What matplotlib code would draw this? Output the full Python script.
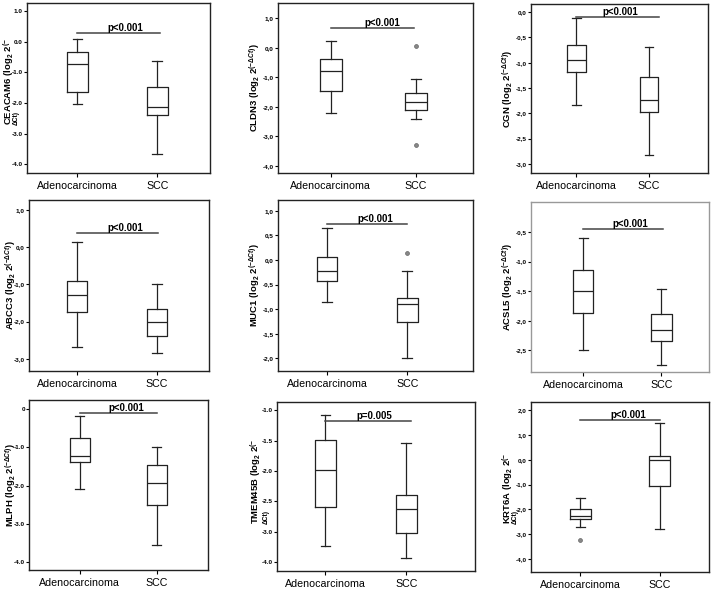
import matplotlib
matplotlib.use('Agg')
from matplotlib import pyplot as plt

plt.rcParams['font.family'] = ['Liberation Sans', 'DejaVu Sans']
plt.rcParams['mathtext.fontset'] = 'custom'
plt.rcParams['mathtext.rm'] = 'Liberation Sans:bold'
plt.rcParams['mathtext.it'] = 'Liberation Sans:bold:italic'
plt.rcParams['mathtext.bf'] = 'Liberation Sans:bold'

groups = ['Adenocarcinoma', 'SCC']
genes = ['CEACAM6', 'CLDN3', 'CGN', 'ABCC3', 'MUC1', 'ACSL5', 'MLPH', 'TMEM45B', 'KRT6A']

# whisker low, Q1, median, Q3, whisker high
adeno = [
    [-2.03, -1.64, -0.71, -0.34, 0.10],
    [-2.22, -1.48, -0.79, -0.40, 0.23],
    [-1.84, -1.18, -0.94, -0.66, -0.12],
    [-2.68, -1.74, -1.28, -0.90, 0.14],
    [-0.85, -0.43, -0.23, 0.07, 0.66],
    [-2.49, -1.87, -1.50, -1.15, -0.60],
    [-2.08, -1.39, -1.22, -0.76, -0.17],
    [-3.23, -2.59, -1.99, -1.49, -1.07],
    [-2.70, -2.39, -2.28, -1.98, -1.54],
]
scc = [
    [-3.66, -2.38, -2.12, -1.48, -0.64],
    [-2.40, -2.11, -1.85, -1.52, -1.07],
    [-2.82, -1.97, -1.74, -1.29, -0.68],
    [-2.85, -2.39, -2.00, -1.67, -0.99],
    [-1.99, -1.26, -0.90, -0.77, -0.23],
    [-2.75, -2.34, -2.15, -1.88, -1.47],
    [-3.55, -2.50, -1.94, -1.45, -1.00],
    [-3.43, -3.03, -2.63, -2.39, -1.53],
    [-2.81, -1.06, 0.00, 0.15, 1.49],
]
adeno_out = [[], [], [], [], [], [], [], [], [-3.26]]
scc_out = [[], [0.06, -3.30], [], [], [0.14], [], [], [], []]

p_text = ['p<0.001'] * 7 + ['p=0.005', 'p<0.001']
p_y = [0.29, 0.66, -0.09, 0.37, 0.74, -0.45, -0.10, -1.18, 1.62]

yticks = [
    [1, 0, -1, -2, -3, -4],
    [1, 0, -1, -2, -3, -4],
    [0, -0.5, -1, -1.5, -2, -2.5, -3],
    [1, 0, -1, -2, -3],
    [1, 0.5, 0, -0.5, -1, -1.5, -2],
    [-0.5, -1, -1.5, -2, -2.5],
    [0, -1, -2, -3, -4],
    [-1, -1.5, -2, -2.5, -3, -3.5],
    [2, 1, 0, -1, -2, -3, -4],
]
ytick_labels = [
    ['1.0', '0.0', '-1.0', '-2.0', '-3.0', '-4.0'],
    ['1,0', '0,0', '-1,0', '-2,0', '-3,0', '-4,0'],
    ['0,0', '-0,5', '-1,0', '-1,5', '-2,0', '-2,5', '-3,0'],
    ['1,0', '0,0', '-1,0', '-2,0', '-3,0'],
    ['1,0', '0,5', '0,0', '-0,5', '-1,0', '-1,5', '-2,0'],
    ['-0,5', '-1,0', '-1,5', '-2,0', '-2,5'],
    ['0', '-1.0', '-2.0', '-3.0', '-4.0'],
    ['-1.0', '-1.5', '-2.0', '-2.5', '-3.0', '-4.0'],
    ['2,0', '1,0', '0,0', '-1,0', '-2,0', '-3,0', '-4,0'],
]

# layout (pixels in a 713x591 image): left, top, right, bottom
boxes_px = [
    (27, 3, 210, 173), (278, 3, 473, 173), (531, 4, 708, 173),
    (29, 200, 209, 371), (278, 200, 473, 371), (531, 202, 709, 372),
    (29, 400, 208, 570), (277, 402, 475, 571), (531, 402, 709, 572),
]
ylims = [(-4.29, 1.27), (-4.24, 1.51), (-3.18, 0.16), (-3.33, 1.27), (-2.26, 1.22),
         (-2.87, 0.01), (-4.2, 0.24), (-3.65, -0.86), (-4.54, 2.34)]
xlims = [(-0.63, 1.66), (-0.62, 1.67), (-0.62, 1.81), (-0.6, 1.65), (-0.61, 1.82),
         (-0.67, 1.61), (-0.66, 1.67), (-0.6, 1.85), (-0.62, 1.62)]
p_end = [1.03, 0.98, 1.14, 1.01, 1.0, 1.02, 1.0, 1.06, 1.0]
# wrapped labels put "ΔCt)" on a second, smaller line
wrapped = [True, False, False, False, False, False, False, True, True]
label_gap = [11, 16, 16, 11, 16, 16, 11, 14, 16]
sub_gap = [7, 0, 0, 0, 0, 0, 0, 7, 12]


def stats(vals, fliers):
    lo, q1, med, q3, hi = vals
    return {'whislo': lo, 'q1': q1, 'med': med, 'q3': q3, 'whishi': hi, 'fliers': fliers}


def panel(fig, i):
    W, H = 713, 591
    l, t, r, b = boxes_px[i]
    ax = fig.add_axes([l / W, 1 - b / H, (r - l) / W, (b - t) / H])
    line = dict(color='#222222', linewidth=0.9)
    ax.bxp([stats(adeno[i], adeno_out[i]), stats(scc[i], scc_out[i])],
           positions=[0, 1], widths=0.26, capwidths=0.12,
           boxprops=line, whiskerprops=line, capprops=line, medianprops=line,
           flierprops=dict(marker='o', markersize=2.8, markerfacecolor='#888888',
                           markeredgecolor='#666666', markeredgewidth=0.5))
    ax.set_xlim(*xlims[i])
    ax.set_ylim(*ylims[i])
    ax.set_xticks([0, 1])
    ax.set_xticklabels(groups, fontsize=7.7)
    ax.set_yticks(yticks[i])
    ax.set_yticklabels(ytick_labels[i], fontsize=4.6, fontweight='bold')
    ax.tick_params(axis='x', length=3, width=0.8, pad=3)
    ax.tick_params(axis='y', length=2.2, width=0.8, pad=0.8)
    edge = '#999999' if i == 5 else '#222222'
    for s in ax.spines.values():
        s.set_color(edge)
        s.set_linewidth(1.0)

    ax.plot([0, p_end[i]], [p_y[i], p_y[i]], color='#444444', linewidth=1.1)
    ax.text(0.6, p_y[i], p_text[i], ha='center', va='bottom',
            fontsize=7, fontweight='bold')

    w = r - l
    if wrapped[i]:
        ax.text(-label_gap[i] / w, 0.28, genes[i] + ' (log$_2$ 2$^{(-}$',
                transform=ax.transAxes, rotation=90, ha='right', va='bottom',
                fontsize=6.8, fontweight='bold')
        ax.text(-sub_gap[i] / w, 0.28, '\u0394Ct)',
                transform=ax.transAxes, rotation=90, ha='right', va='bottom',
                fontsize=4.8, fontweight='bold')
    else:
        ax.text(-label_gap[i] / w, 0.5, genes[i] + ' (log$_2$ 2$^{(-\\Delta Ct)}$)',
                transform=ax.transAxes, rotation=90, ha='right', va='center',
                fontsize=6.8, fontweight='bold')


def main():
    fig = plt.figure(figsize=(7.13, 5.91), dpi=100)
    for i in range(len(genes)):
        panel(fig, i)
    fig.savefig('out.png', dpi=100)
    plt.close(fig)


if __name__ == '__main__':
    main()
